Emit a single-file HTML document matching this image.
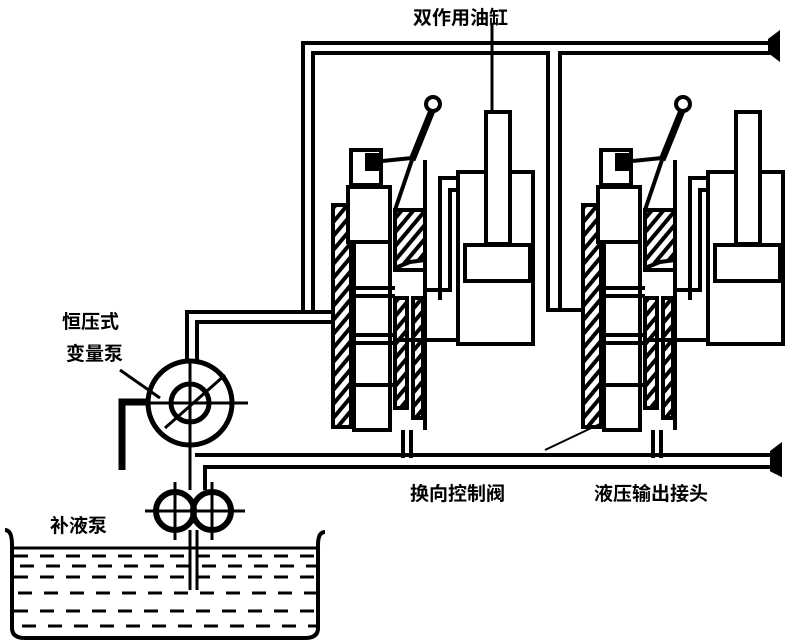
<!DOCTYPE html>
<html><head><meta charset="utf-8"><style>
html,body{margin:0;padding:0;background:#fff}
svg{display:block}
text{font-family:"Liberation Sans","Noto Sans CJK SC","WenQuanYi Zen Hei",sans-serif;font-weight:bold;font-size:19px;fill:#000}
</style></head><body>
<svg width="785" height="643" viewBox="0 0 785 643" xmlns="http://www.w3.org/2000/svg">
<defs>
<pattern id="h" width="9" height="9" patternUnits="userSpaceOnUse" patternTransform="rotate(40)">
<rect width="9" height="9" fill="#fff"/><rect width="4" height="9" fill="#000"/></pattern>
<g id="unit" fill="none" stroke="#000" stroke-width="4">
  <rect x="333" y="205" width="18" height="222" fill="url(#h)"/>
  <rect x="351" y="150" width="30" height="35" fill="#fff"/>
  <rect x="348" y="187" width="42" height="55" fill="#fff"/>
  <rect x="354" y="242" width="36" height="188" fill="#fff"/>
  <line x1="351" y1="288" x2="395" y2="288"/>
  <line x1="351" y1="296" x2="395" y2="296"/>
  <line x1="351" y1="335" x2="395" y2="335"/>
  <line x1="351" y1="343" x2="395" y2="343"/>
  <line x1="351" y1="385" x2="395" y2="385"/>
  <polygon points="395,210 425,210 425,260 410,262 395,268" fill="url(#h)"/>
  <rect x="395" y="298" width="12" height="110" fill="url(#h)"/>
  <rect x="413" y="298" width="10" height="120" fill="url(#h)"/>
  <line x1="393" y1="270" x2="425" y2="270"/>
  <line x1="425" y1="160" x2="425" y2="430"/>
  <line x1="395" y1="210" x2="412" y2="160"/>
  <rect x="367" y="155" width="12" height="14" fill="#000"/>
  <line x1="372" y1="162" x2="412" y2="158"/>
  <line x1="412" y1="160" x2="433" y2="108" stroke-width="7"/>
  <circle cx="433" cy="104" r="7" fill="#fff"/>
  <rect x="458" y="172" width="75" height="172" fill="#fff"/>
  <rect x="486" y="112" width="24" height="132" fill="#fff"/>
  <rect x="465" y="245" width="65" height="36" fill="#fff"/>
  <polyline points="440,300 440,178 458,178"/>
  <polyline points="425,290 450,290 450,190 458,190"/>
  <line x1="395" y1="340" x2="458" y2="340"/>
  <line x1="403" y1="430" x2="403" y2="458"/>
  <line x1="411" y1="430" x2="411" y2="458"/>
</g>
</defs>

<g fill="none" stroke="#000" stroke-width="4">
  <polyline points="303,310 303,43 770,43"/>
  <polyline points="313,310 313,53 548,53 548,310 590,310"/>
  <polyline points="560,310 560,53 770,53"/>
  <path d="M770,40 L778,34 L778,58 L770,52 Z" fill="#000"/>
  <line x1="195" y1="455" x2="775" y2="455"/>
  <polyline points="205,490 205,467 775,467"/>
  <path d="M772,452 L780,446 L780,474 L772,470 Z" fill="#000"/>
  <polyline points="187,360 187,312 335,312"/>
  <polyline points="197,360 197,322 335,322"/>
</g>
<use href="#unit"/>
<use href="#unit" transform="translate(250,0)"/>
<g fill="none" stroke="#000" stroke-width="3">
  <line x1="492" y1="25" x2="492" y2="112"/>
  <circle cx="190" cy="403" r="42" stroke-width="5"/>
  <circle cx="190" cy="403" r="19" stroke-width="5"/>
  <line x1="140" y1="403" x2="248" y2="403"/>
  <line x1="190" y1="360" x2="190" y2="448"/>
  <line x1="165" y1="428" x2="225" y2="375"/>
  <line x1="120" y1="370" x2="160" y2="398"/>
  <polyline points="122,470 122,402 148,402" stroke-width="7"/>
  <line x1="190" y1="448" x2="190" y2="490"/>
  <circle cx="175" cy="511" r="19" stroke-width="6"/>
  <circle cx="212" cy="511" r="19" stroke-width="6"/>
  <line x1="145" y1="511" x2="245" y2="511"/>
  <line x1="175" y1="482" x2="175" y2="540"/>
  <line x1="212" y1="482" x2="212" y2="540"/>
  <line x1="190" y1="530" x2="190" y2="590"/>
  <line x1="197" y1="530" x2="197" y2="590"/>
  <path d="M5,530 Q12,530 12,545 L12,628 Q12,638 25,638 L305,638 Q318,638 318,628 L318,545 Q318,532 325,532" stroke-width="4"/>
  <line x1="12" y1="548" x2="318" y2="548"/>
</g>
<g stroke="#000" stroke-width="3" stroke-dasharray="14 12">
  <line x1="14" y1="556" x2="316" y2="556"/>
  <line x1="20" y1="566" x2="316" y2="566"/>
  <line x1="14" y1="577" x2="316" y2="577"/>
  <line x1="18" y1="593" x2="316" y2="593"/>
  <line x1="14" y1="611" x2="316" y2="611"/>
  <line x1="22" y1="626" x2="316" y2="626"/>
</g>
<line x1="604" y1="422" x2="545" y2="450" stroke="#000" stroke-width="2"/>
<text x="413" y="24">双作用油缸</text>
<text x="62" y="328">恒压式</text>
<text x="66" y="360">变量泵</text>
<text x="50" y="532">补液泵</text>
<text x="410" y="500">换向控制阀</text>
<text x="594" y="500">液压输出接头</text>
</svg>
</body></html>
